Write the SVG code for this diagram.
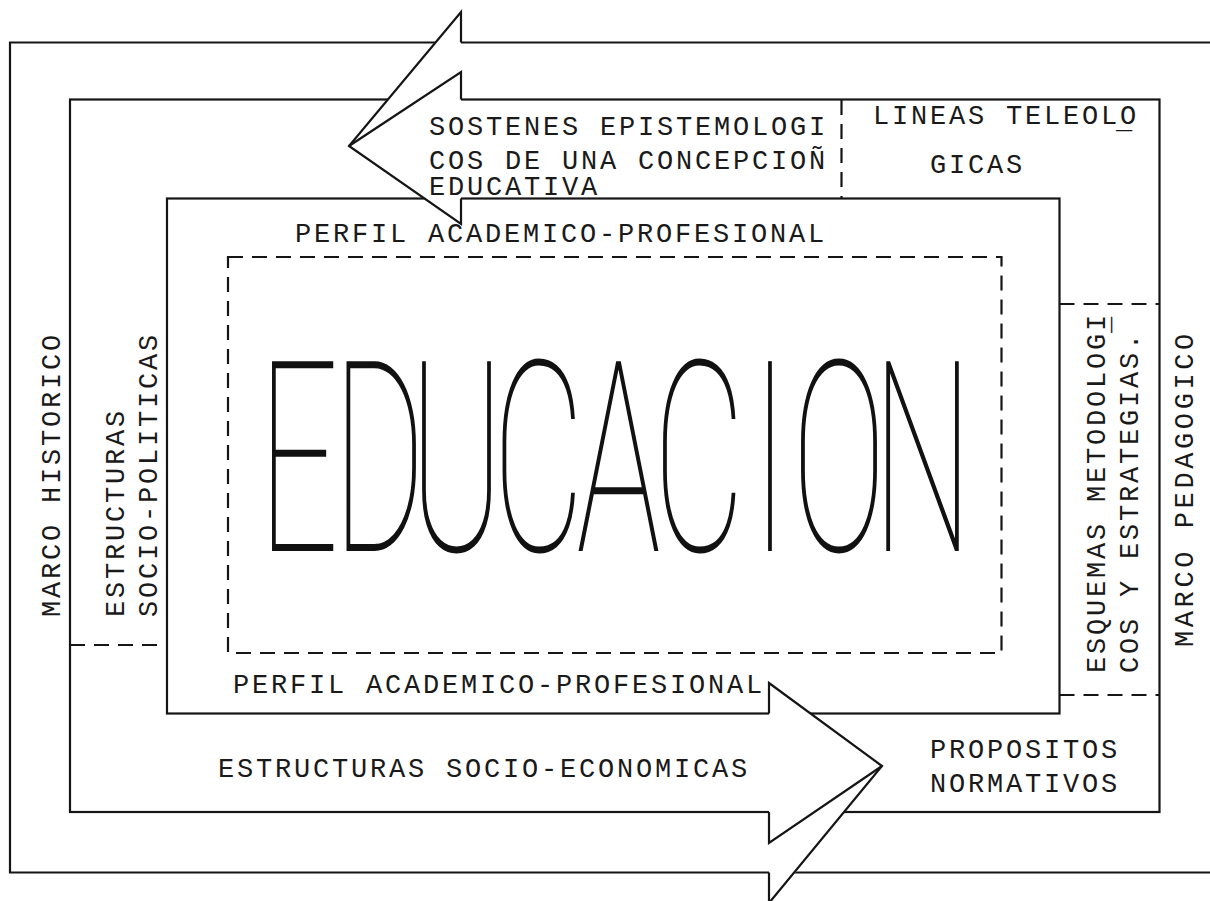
<svg xmlns="http://www.w3.org/2000/svg" width="1210" height="901" viewBox="0 0 1210 901">
<style>
.ln{fill:none;stroke:#151515;stroke-width:2.2}
.dash{fill:none;stroke:#151515;stroke-width:2.2;stroke-dasharray:15 9}
.mask{fill:#fff;stroke:none}
.t{font-family:"Liberation Mono","DejaVu Sans Mono",monospace;font-size:27px;letter-spacing:2.8px;fill:#1a1a1a}
.big{font-family:Roboto,"Liberation Sans",sans-serif;font-weight:100;font-size:267px;fill:#111;text-anchor:middle}
</style>
<rect width="1210" height="901" fill="#fff"/>

<g id="marco-historico-pedagogico">
  <path class="ln" d="M1212,42.5 H10 V872.5 H1212"/>
  <text class="t" transform="translate(60,617) rotate(-90)">MARCO HISTORICO</text>
  <text class="t" transform="translate(1193,647) rotate(-90)" style="letter-spacing:3.6px">MARCO PEDAGOGICO</text>
</g>

<g id="estructuras">
  <rect class="ln" x="70" y="99.5" width="1089.5" height="712.5"/>
  <path class="dash" d="M70,645 H167"/>
  <path class="dash" d="M841.5,100 V198.5"/>
  <path class="dash" d="M1059.5,304 H1159.5"/>
  <path class="dash" d="M1059.5,695 H1159.5"/>
  <text class="t" transform="translate(124,617) rotate(-90)">ESTRUCTURAS</text>
  <text class="t" transform="translate(157,617) rotate(-90)">SOCIO-POLITICAS</text>
  <text class="t" x="218" y="777">ESTRUCTURAS SOCIO-ECONOMICAS</text>
  <text class="t" x="873" y="123.5">LINEAS TELEOLO<tspan x="1116" dy="4">_</tspan></text>
  <text class="t" x="930" y="173">GICAS</text>
  <text class="t" transform="translate(1105,673) rotate(-90)">ESQUEMAS METODOLOGI<tspan x="340" dy="4">_</tspan></text>
  <text class="t" transform="translate(1138,673) rotate(-90)">COS Y ESTRATEGIAS.</text>
  <text class="t" x="930" y="758">PROPOSITOS</text>
  <text class="t" x="930" y="792">NORMATIVOS</text>
</g>

<g id="perfil">
  <rect class="ln" x="167" y="198.5" width="892.5" height="515"/>
  <text class="t" x="295" y="242">PERFIL ACADEMICO-PROFESIONAL</text>
  <text class="t" x="233" y="693">PERFIL ACADEMICO-PROFESIONAL</text>
</g>

<g id="educacion">
  <rect class="dash" x="228" y="257" width="773.5" height="396"/>
  <text class="big" transform="scale(0.53,1)" x="563.2 715.1 861.3 1016 1167 1318.9 1452.8 1583 1740.6" y="551">EDUCACION</text>
</g>

<g id="connectors">
  <polygon class="mask" points="349,146 461,11 461,225"/>
  <polyline class="ln" points="461,42.5 461,12 349,146 461,224 461,198.5"/>
  <polyline class="ln" points="349,146 461,72 461,99.5"/>
  <polygon class="mask" points="882,766 769,682 769,905"/>
  <polyline class="ln" points="769,713.5 769,683 882,766 769,903 769,872.5"/>
  <polyline class="ln" points="882,766 769,843 769,812"/>
</g>

<g id="sostenes">
  <text class="t" x="429" y="135">SOSTENES EPISTEMOLOGI</text>
  <text class="t" x="429" y="169">COS DE UNA CONCEPCIOÑ</text>
  <text class="t" x="429" y="195">EDUCATIVA</text>
</g>
</svg>
